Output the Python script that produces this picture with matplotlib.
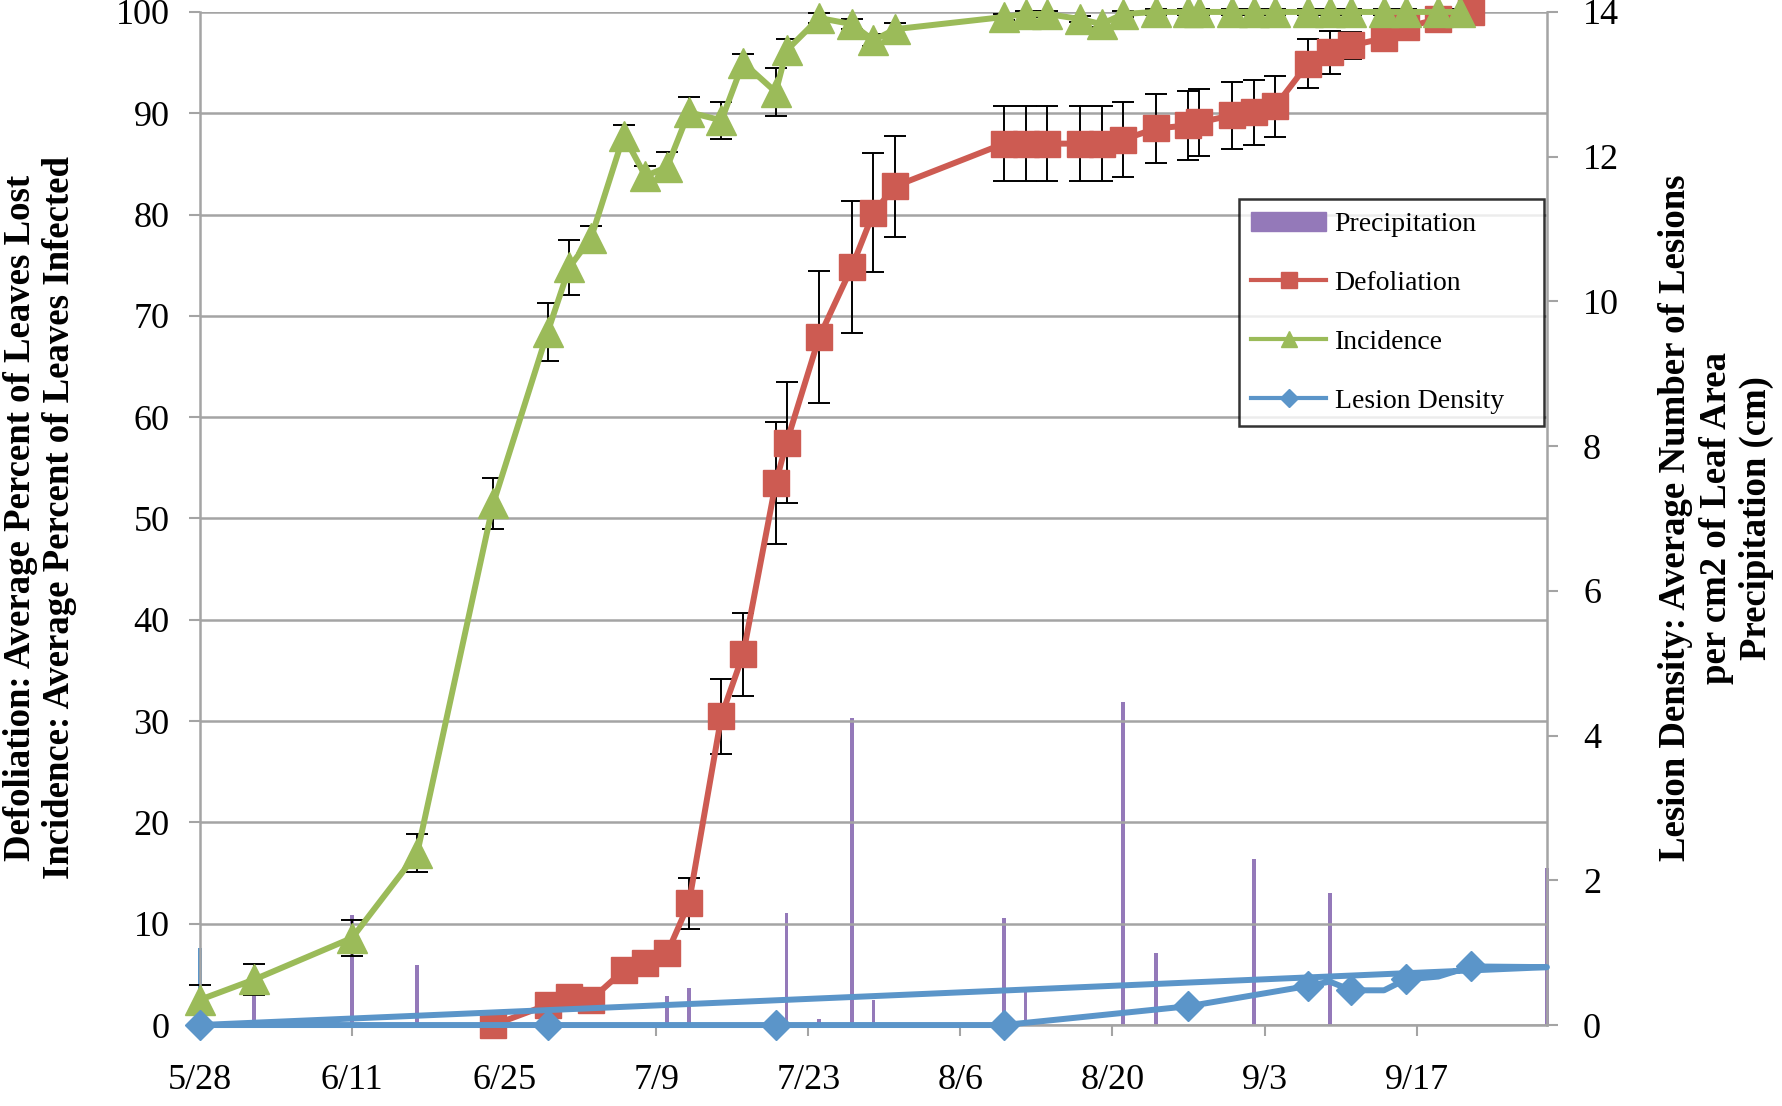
import datetime as dt
import matplotlib
matplotlib.use("Agg")
import matplotlib.pyplot as plt
from matplotlib.lines import Line2D
from matplotlib.patches import Patch

plt.rcParams['font.family'] = ['Liberation Serif', 'DejaVu Serif']

YEAR = 2011

# incidence: % of leaves infected (green)
inc_dates = ["5/28", "6/2", "6/11", "6/17", "6/24", "6/29", "7/1", "7/3", "7/6", "7/8",
             "7/10", "7/12", "7/15", "7/17", "7/20", "7/21", "7/24", "7/27", "7/29", "7/31",
             "8/10", "8/12", "8/14", "8/17", "8/19", "8/21", "8/24", "8/27", "8/28", "8/31",
             "9/2", "9/4", "9/7", "9/9", "9/11", "9/14", "9/16", "9/19", "9/21"]
inc_vals = [2.5, 4.5, 8.6, 17.0, 51.5, 68.4, 74.8, 77.7, 87.8, 83.8,
            84.7, 90.1, 89.3, 95.0, 92.1, 96.2, 99.4, 98.8, 97.2, 98.3,
            99.5, 99.8, 99.8, 99.3, 98.8, 99.8, 100, 100, 100, 100,
            100, 100, 100, 100, 100, 100, 100, 100, 100]
inc_err = [1.5, 1.5, 1.8, 1.9, 2.5, 2.9, 2.7, 1.2, 1.0, 1.0,
           1.5, 1.5, 1.8, 0.8, 2.4, 1.1, 0.5, 0.5, 0.6, 0.6,
           0.3, 0.3, 0.3, 0.3, 0.3, 0.3, 0.3, 0.3, 0.3, 0.3,
           0.3, 0.3, 0.3, 0.3, 0.3, 0.3, 0.3, 0.3, 0.3]

# defoliation: % of leaves lost (red)
def_dates = ["6/24", "6/29", "7/1", "7/3", "7/6", "7/8", "7/10", "7/12", "7/15", "7/17",
             "7/20", "7/21", "7/24", "7/27", "7/29", "7/31", "8/10", "8/12", "8/14", "8/17",
             "8/19", "8/21", "8/24", "8/27", "8/28", "8/31", "9/2", "9/4", "9/7", "9/9",
             "9/11", "9/14", "9/16", "9/19", "9/22"]
def_vals = [0, 2.0, 2.8, 2.5, 5.4, 6.1, 7.1, 12.0, 30.5, 36.6,
            53.5, 57.5, 67.9, 74.8, 80.2, 82.8, 87.0, 87.0, 87.0, 87.0,
            87.0, 87.4, 88.5, 88.8, 89.1, 89.8, 90.1, 90.7, 94.9, 96.0,
            96.7, 97.4, 98.5, 99.3, 100]
def_err = [0.3, 0.5, 0.5, 0.5, 0.8, 0.8, 1.0, 2.5, 3.7, 4.1,
           6.0, 6.0, 6.5, 6.5, 5.9, 5.0, 3.7, 3.7, 3.7, 3.7,
           3.7, 3.7, 3.4, 3.4, 3.3, 3.3, 3.2, 3.0, 2.4, 2.1,
           1.3, 0.6, 0.3, 0.3, 0.3]

# lesion density (lesions per cm2, right axis) - series wraps back to the start in the original
les_dates = ["5/28", "6/29", "7/20", "8/10", "8/27", "9/7", "9/9", "9/11", "9/14", "9/16",
             "9/19", "9/22", "9/29", "5/28"]
les_vals = [0, 0, 0, 0, 0.26, 0.54, 0.60, 0.48, 0.48, 0.63, 0.67, 0.81, 0.80, 0]
les_marked = [0, 1, 2, 3, 4, 5, 7, 9, 11]

# precipitation (cm, right axis)
prec_dates = ["5/28", "6/2", "6/11", "6/17", "7/10", "7/12", "7/21", "7/24", "7/27", "7/29",
              "8/10", "8/12", "8/21", "8/24", "9/2", "9/9", "9/29"]
prec_vals = [1.06, 0.46, 1.52, 0.83, 0.40, 0.51, 1.55, 0.09, 4.24, 0.35,
             1.48, 0.45, 4.46, 0.99, 2.30, 1.82, 2.17]

x_tick_labels = ["5/28", "6/11", "6/25", "7/9", "7/23", "8/6", "8/20", "9/3", "9/17"]


def md(s):
    m, d = s.split("/")
    return dt.date(YEAR, int(m), int(d))


RED = "#cd5b52"
GREEN = "#9bbb59"
BLUE = "#5b95c9"
PURPLE = "#9479b9"
GRID = "#a4a4a4"

fig, ax = plt.subplots(figsize=(17.83, 11.06), dpi=100)
fig.subplots_adjust(left=0.1122, right=0.8676, top=0.9892, bottom=0.0732)

# bars behind, percent lines in the middle, lesion line on top
ax_bar = ax.twinx()
ax_les = ax.twinx()
ax_bar.set_zorder(1)
ax.set_zorder(2)
ax_les.set_zorder(3)
ax.patch.set_visible(False)
ax_les.patch.set_visible(False)

pcolors = [BLUE] + [PURPLE] * (len(prec_vals) - 1)
ax_bar.bar([md(s) for s in prec_dates], prec_vals, width=0.35, color=pcolors, clip_on=False)

ax.errorbar([md(s) for s in def_dates], def_vals, yerr=def_err, fmt='none', ecolor='black',
            elinewidth=1.4, capsize=8, capthick=1.4, zorder=2, clip_on=False)
ax.errorbar([md(s) for s in inc_dates], inc_vals, yerr=inc_err, fmt='none', ecolor='black',
            elinewidth=1.4, capsize=8, capthick=1.4, zorder=2, clip_on=False)
ax.plot([md(s) for s in def_dates], def_vals, color=RED, lw=4.3, marker='s', ms=19,
        zorder=3, clip_on=False)
ax.plot([md(s) for s in inc_dates], inc_vals, color=GREEN, lw=4.3, marker='^', ms=21,
        zorder=4, clip_on=False)

ax_les.plot([md(s) for s in les_dates], les_vals, color=BLUE, lw=4.3, marker='D', ms=15,
            markevery=les_marked, clip_on=False)

ax.set_xlim(md("5/28"), md("9/29"))
ax.set_ylim(0, 100)
ax.set_yticks(range(0, 101, 10))
ax.yaxis.grid(True, color=GRID, lw=1.8)
ax.set_axisbelow(True)
ax.set_xticks([md(s) for s in x_tick_labels])
ax.set_xticklabels(x_tick_labels)
ax.tick_params(axis='both', labelsize=26, color=GRID, width=1.5, length=8)
ax.tick_params(axis='y', pad=14)
ax.tick_params(axis='x', pad=20)
for side in ("top", "right"):
    ax.spines[side].set_visible(False)
for side in ("left", "bottom"):
    ax.spines[side].set_color(GRID)
    ax.spines[side].set_linewidth(1.8)

for a in (ax_bar, ax_les):
    a.set_ylim(0, 14)
    for side in ("top", "left", "bottom"):
        a.spines[side].set_visible(False)
ax_les.spines["right"].set_visible(False)
ax_les.set_yticks([])
ax_bar.set_yticks(range(0, 15, 2))
ax_bar.spines["right"].set_color(GRID)
ax_bar.spines["right"].set_linewidth(1.8)
ax_bar.tick_params(axis='y', labelsize=26, color=GRID, width=1.5, length=8, pad=18)

fig.text(0.0225, 0.532, "Defoliation: Average Percent of Leaves Lost\nIncidence: Average Percent of Leaves Infected",
         rotation=90, ha='center', va='center', fontsize=26.5, fontweight='bold', linespacing=1.13)
fig.text(0.9625, 0.532, "Lesion Density: Average Number of Lesions\nper cm2 of Leaf Area\nPrecipitation (cm)",
         rotation=90, ha='center', va='center', fontsize=26.5, fontweight='bold', linespacing=1.2)

handles = [Patch(color=PURPLE),
           Line2D([], [], color=RED, lw=3, marker='s', ms=11),
           Line2D([], [], color=GREEN, lw=3, marker='^', ms=11),
           Line2D([], [], color=BLUE, lw=3, marker='D', ms=9)]
labels = ["Precipitation", "Defoliation", "Incidence", "Lesion Density    "]
leg = ax_les.legend(handles, labels, loc='upper right', bbox_to_anchor=(0.998, 0.815),
                    borderaxespad=0, fontsize=20, frameon=True, fancybox=False,
                    edgecolor='black', handlelength=2.7, labelspacing=1.2,
                    borderpad=0.45, handletextpad=0.3)
leg.get_frame().set_linewidth(1.8)
leg.set_zorder(10)

fig.savefig("out.png", dpi=100)
